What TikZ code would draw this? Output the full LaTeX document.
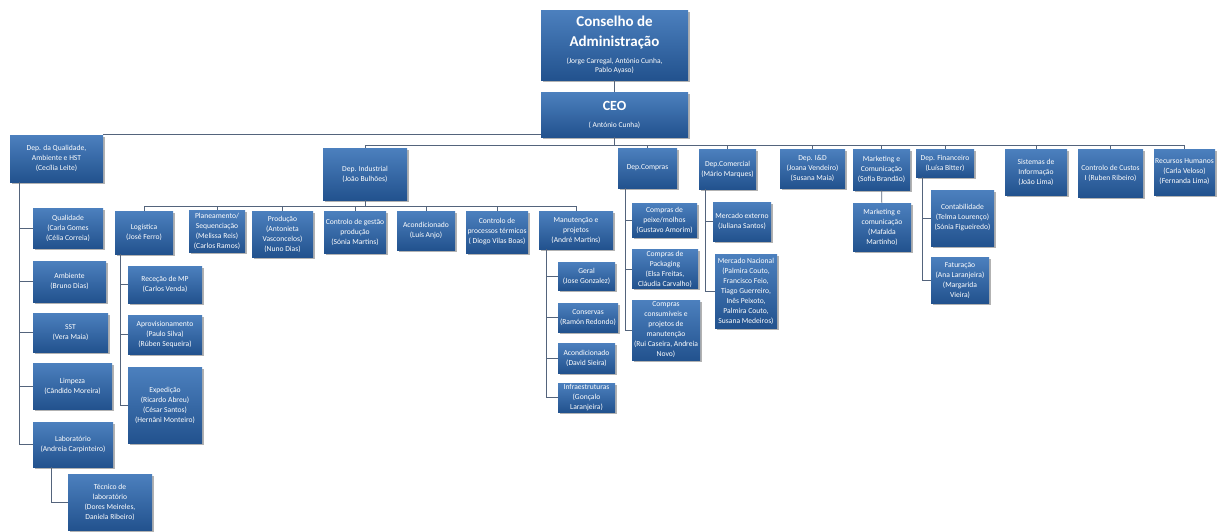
\documentclass[tikz,border=0pt]{standalone}
\usepackage{fontspec}
\setmainfont{Carlito}
\usepackage{tikz}
\usetikzlibrary{shadows}
\definecolor{boxtop}{RGB}{76,128,190}
\definecolor{boxbot}{RGB}{34,82,142}
\definecolor{linkgray}{RGB}{84,100,124}
\newcommand{\bigtitle}{\bfseries\fontsize{15}{18}\selectfont}
\newcommand{\ceotitle}{\bfseries\fontsize{14}{16}\selectfont}
\newcommand{\smallnames}{\fontsize{7.5}{9}\selectfont}

\begin{document}
\begin{tikzpicture}[x=1pt,y=-1pt,semithick,
  wh/.style 2 args={minimum width=#1pt,minimum height=#2pt}]
\tikzstyle{unit}=[top color=boxtop,bottom color=boxbot,text=white,align=center,inner sep=1pt,
  font=\fontsize{7.6}{10}\selectfont,
  drop shadow={shadow xshift=1.5pt,shadow yshift=-1.5pt,opacity=0.3,fill=black}]
\tikzstyle{link}=[draw=linkgray,line width=0.9pt]
\useasboundingbox (0,0) rectangle (1222,531);

% top of the chart
\node[unit,wh={147}{70},font=\fontsize{7.5}{9}\selectfont] (conselho) at (614.5,45)
  {\bigtitle Conselho de\\[8pt]\bigtitle Administração\\[8pt]
   \smallnames (Jorge Carregal, António Cunha,\\\smallnames Pablo Ayaso)};
\node[unit,wh={147}{45},font=\fontsize{7.5}{9}\selectfont] (ceo) at (614.5,114.5)
  {\ceotitle CEO\\[8pt]\smallnames ( António Cunha)};

% departments
\node[unit,wh={93}{47}] (qual) at (56.5,158.5) {Dep. da Qualidade,\\Ambiente e HST\\(Cecília Leite)};
\node[unit,wh={84}{52}] (ind) at (365,174) {Dep. Industrial\\(João Bulhões)};
\node[unit,wh={59}{40}] (compras) at (647.5,168) {Dep.Compras};
\node[unit,wh={57}{40}] (comercial) at (727.5,169) {Dep.Comercial\\(Mário Marques)};
\node[unit,wh={65}{39}] (inov) at (812.5,168.5) {Dep. I\&D\\(Joana Vendeiro)\\(Susana Maia)};
\node[unit,wh={57}{41}] (mkt) at (881.5,169.5) {Marketing e\\Comunicação\\(Sofia Brandão)};
\node[unit,wh={58}{28}] (fin) at (945,163) {Dep. Financeiro\\(Luísa Bitter)};
\node[unit,wh={62}{46}] (sist) at (1036,172) {Sistemas de\\Informação\\(João Lima)};
\node[unit,wh={65}{48}] (custos) at (1110.5,173) {Controlo de Custos\\I (Ruben Ribeiro)};
\node[unit,wh={61}{46}] (rh) at (1184.5,172) {Recursos Humanos\\(Carla Veloso)\\(Fernanda Lima)};

% qualidade
\node[unit,wh={70}{40}] (qualidade) at (68,228) {Qualidade\\(Carla Gomes\\(Célia Correia)};
\node[unit,wh={73}{41}] (ambiente) at (69.5,281.5) {Ambiente\\(Bruno Dias)};
\node[unit,wh={75}{39}] (sst) at (70.5,332.5) {SST\\(Vera Maia)};
\node[unit,wh={79}{46}] (limpeza) at (72.5,386) {Limpeza\\(Cândido Moreira)};
\node[unit,wh={80}{45}] (lab) at (73,444.5) {Laboratório\\(Andreia Carpinteiro)};
\node[unit,wh={84}{56}] (tecnico) at (110,502) {Técnico de\\laboratório\\(Dores Meireles,\\Daniela Ribeiro)};

% industrial
\node[unit,wh={58}{43}] (logistica) at (144,232.5) {Logística\\(José Ferro)};
\node[unit,wh={56}{42}] (planeamento) at (217,231.5) {Planeamento/\\Sequenciação\\(Melissa Reis)\\(Carlos Ramos)};
\node[unit,wh={61}{46}] (producao) at (282.5,234) {Produção\\(Antonieta\\Vasconcelos)\\(Nuno Dias)};
\node[unit,wh={62}{42}] (ctrlgestao) at (355,232) {Controlo de gestão\\produção\\(Sónia Martins)};
\node[unit,wh={58}{39}] (acond) at (426,230.5) {Acondicionado\\(Luís Anjo)};
\node[unit,wh={62}{42}] (ctrlproc) at (497,232) {Controlo de\\processos térmicos\\( Diogo Vilas Boas)};
\node[unit,wh={74}{38}] (manut) at (576,230) {Manutenção e\\projetos\\(André Martins)};

\node[unit,wh={74}{37}] (rececao) at (165,284.5) {Receção de MP\\(Carlos Venda)};
\node[unit,wh={74}{39}] (aprov) at (165,334.5) {Aprovisionamento\\(Paulo Silva)\\(Rúben Sequeira)};
\node[unit,wh={74}{76}] (exped) at (165,405) {Expedição\\(Ricardo Abreu)\\(César Santos)\\(Hernâni Monteiro)};

\node[unit,wh={57}{28}] (geral) at (586.5,276) {Geral\\(Jose Gonzalez)};
\node[unit,wh={60}{29}] (conservas) at (588,317.5) {Conservas\\(Ramón Redondo)};
\node[unit,wh={57}{30}] (acondmnt) at (586.5,358) {Acondicionado\\(David Sieira)};
\node[unit,wh={57}{29}] (infra) at (586.5,397.5) {Infraestruturas\\(Gonçalo\\Laranjeira)};

% compras, comercial, marketing, financeiro
\node[unit,wh={65}{34}] (peixe) at (664.5,220) {Compras de\\peixe/molhos\\(Gustavo Amorim)};
\node[unit,wh={66}{38}] (packaging) at (665,269) {Compras de\\Packaging\\(Elsa Freitas,\\Cláudia Carvalho)};
\node[unit,wh={68}{60}] (consumiveis) at (666,330) {Compras\\consumíveis e\\projetos de\\manutenção\\(Rui Caseira, Andreia\\Novo)};

\node[unit,wh={58}{39}] (mercext) at (742,221.5) {Mercado externo\\(Juliana Santos)};
\node[unit,wh={62}{74}] (mercnac) at (746,291) {Mercado Nacional\\(Palmira Couto,\\Francisco Feio,\\Tiago Guerreiro,\\Inês Peixoto,\\Palmira Couto,\\Susana Medeiros)};

\node[unit,wh={58}{48}] (mktcom) at (882,227) {Marketing e\\comunicação\\(Mafalda\\Martinho)};

\node[unit,wh={63}{56}] (contab) at (962.5,218) {Contabilidade\\(Telma Lourenço)\\(Sónia Figueiredo)};
\node[unit,wh={58}{46}] (fatur) at (960,280) {Faturação\\(Ana Laranjeira)\\(Margarida\\Vieira)};

% connectors
\draw[link] (conselho) -- (ceo);
\draw[link] (qual.north east) -- (qual.north east -| ceo.west);
\draw[link] (ceo.south) -- ++(0,8) coordinate (bus);
\foreach \n in {ind,compras,comercial,inov,mkt,fin,sist,custos,rh}
  \draw[link] (bus) -| (\n.north);

\foreach \n in {qualidade,ambiente,sst,limpeza,lab}
  \draw[link] ([xshift=10pt]qual.south west) |- (\n.west);
\draw[link] ([xshift=19pt]lab.south west) |- (tecnico.west);

\draw[link] (ind.south) -- ++(0,6) coordinate (indbus);
\foreach \n in {logistica,planeamento,producao,ctrlgestao,acond,ctrlproc,manut}
  \draw[link] (indbus) -| (\n.north);
\foreach \n in {rececao,aprov,exped}
  \draw[link] ([xshift=6pt]logistica.south west) |- (\n.west);
\foreach \n in {geral,conservas,acondmnt,infra}
  \draw[link] ([xshift=8pt]manut.south west) |- (\n.west);

\foreach \n in {peixe,packaging,consumiveis}
  \draw[link] ([xshift=8pt]compras.south west) |- (\n.west);
\foreach \n in {mercext,mercnac}
  \draw[link] ([xshift=7pt]comercial.south west) |- (\n.west);
\draw[link] (mkt) -- (mktcom);
\foreach \n in {contab,fatur}
  \draw[link] ([xshift=7pt]fin.south west) |- (\n.west);
\end{tikzpicture}
\end{document}
